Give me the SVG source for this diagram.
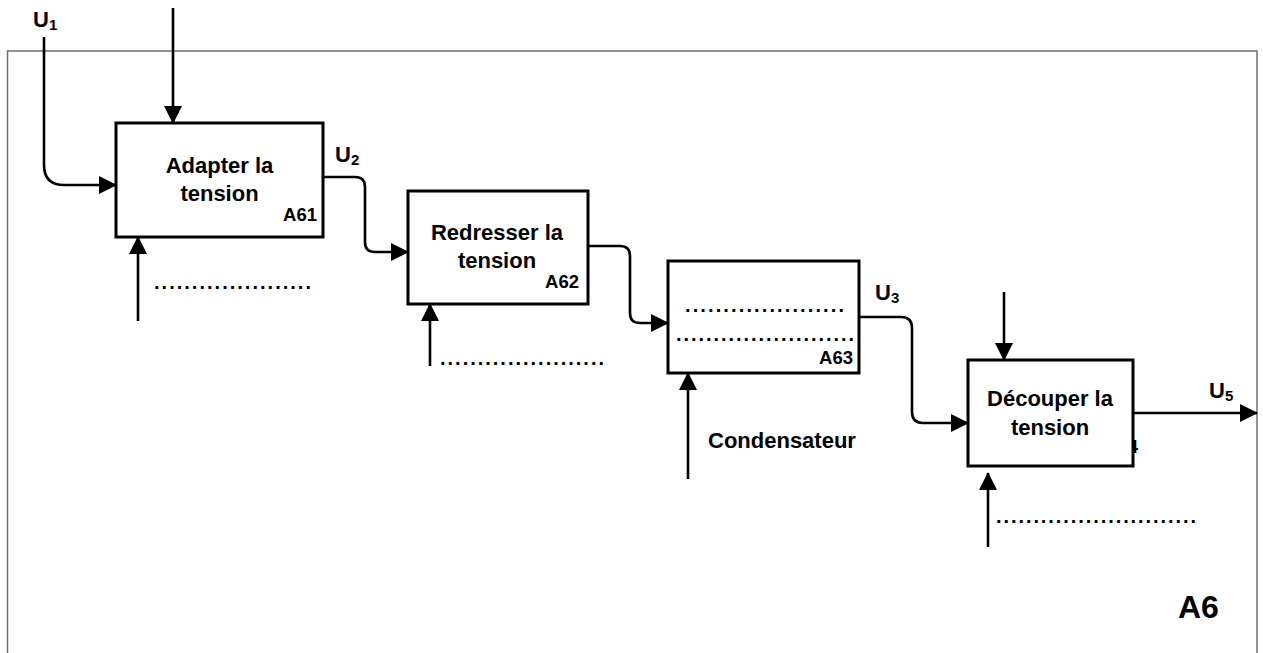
<svg xmlns="http://www.w3.org/2000/svg" width="1263" height="653" viewBox="0 0 1263 653">
<style>
text{font-family:"Liberation Sans",Arial,sans-serif;font-weight:bold;fill:#000}
.box{fill:#fff;stroke:#000;stroke-width:3}
.t{font-size:22px;text-anchor:middle}
.id{font-size:18.5px;text-anchor:end}
.lbl{font-size:22px}
.sub{font-size:15px}
.dots{font-size:20px}
.c{fill:none;stroke:#000;stroke-width:2.6;marker-end:url(#ah)}
.frame{fill:none;stroke:#6e6e6e;stroke-width:1.5}
</style>
<defs>
<marker id="ah" viewBox="0 0 18 18" refX="17" refY="9" markerWidth="18" markerHeight="18" markerUnits="userSpaceOnUse" orient="auto">
<path d="M0,0 L18,9 L0,18 z" fill="#000"/>
</marker>
</defs>
<rect width="1263" height="653" fill="#fff"/>
<rect class="frame" x="7.5" y="51" width="1249.5" height="640"/>
<text x="1178" y="618" style="font-size:32px">A6</text>

<g id="connectors">
<path class="c" d="M44,37 V165 Q44,185 64,185 H116"/>
<path class="c" d="M173,8 V123"/>
<path class="c" d="M138,321 V237"/>
<path class="c" d="M323,177 H355 Q365,177 365,187 V242 Q365,252 375,252 H408"/>
<path class="c" d="M588,246 H620 Q630,246 630,256 V313 Q630,323 640,323 H668"/>
<path class="c" d="M430,366 V304"/>
<path class="c" d="M859,317 H901 Q912,317 912,328 V412 Q912,423 923,423 H968"/>
<path class="c" d="M688,479 V373"/>
<path class="c" d="M1004,292 V360"/>
<path class="c" d="M988,547 V473"/>
<path class="c" d="M1133,413 H1257"/>
</g>

<g id="labels">
<text class="lbl" x="33" y="27">U<tspan class="sub" dy="3">1</tspan></text>
<text class="lbl" x="335" y="162">U<tspan class="sub" dy="3">2</tspan></text>
<text class="lbl" x="875" y="300">U<tspan class="sub" dy="3">3</tspan></text>
<text class="lbl" x="1209" y="398">U<tspan class="sub" dy="3">5</tspan></text>
<text class="dots" x="154" y="289" textLength="157" lengthAdjust="spacing">.....................</text>
<text class="dots" x="440" y="365" textLength="164" lengthAdjust="spacing">......................</text>
<text class="dots" x="996" y="523" textLength="200" lengthAdjust="spacing">...........................</text>
<text x="708" y="448" style="font-size:22px">Condensateur</text>
</g>

<g id="A61">
<rect class="box" x="116" y="123" width="207" height="114"/>
<text class="t" x="219.5" y="173">Adapter la</text>
<text class="t" x="219.5" y="201">tension</text>
<text class="id" x="317" y="221">A61</text>
</g>

<g id="A62">
<rect class="box" x="408" y="191" width="180" height="113"/>
<text class="t" x="497" y="240">Redresser la</text>
<text class="t" x="497" y="268">tension</text>
<text class="id" x="579" y="288">A62</text>
</g>

<g id="A63">
<rect class="box" x="668" y="261" width="191" height="112"/>
<text class="dots" x="685" y="312" textLength="159" lengthAdjust="spacing">.....................</text>
<text class="dots" x="676" y="341" textLength="178" lengthAdjust="spacing">........................</text>
<text class="id" x="853" y="364">A63</text>
</g>

<g id="A64">
<text class="id" x="1138" y="453">A64</text>
<rect class="box" x="968" y="360" width="165" height="106"/>
<text class="t" x="1050" y="406">Découper la</text>
<text class="t" x="1050" y="435">tension</text>
</g>
</svg>
